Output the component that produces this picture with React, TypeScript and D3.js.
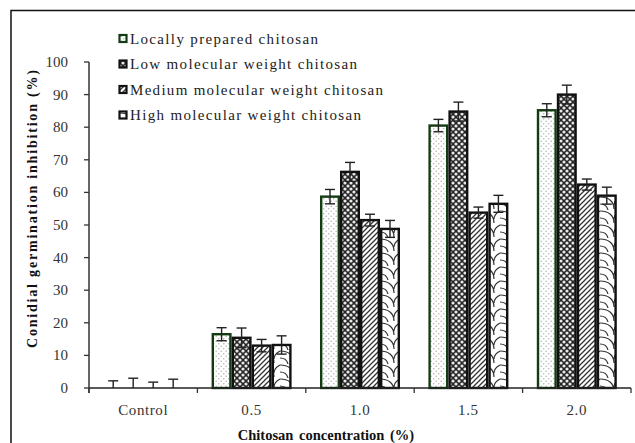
import React from "react";
import * as d3 from "d3";

const categories = ["Control", "0.5", "1.0", "1.5", "2.0"];
const seriesNames = [
  "Locally prepared chitosan",
  "Low molecular weight chitosan",
  "Medium molecular weight chitosan",
  "High molecular weight chitosan",
];
const locallyValues = [0, 16.5, 58.7, 80.5, 85.2];
const locallyErrors = [2.2, 2.0, 2.2, 1.9, 2.0];
const lowValues = [0, 15.4, 66.3, 84.8, 90.0];
const lowErrors = [3.0, 3.0, 2.9, 2.9, 2.9];
const mediumValues = [0, 13.0, 51.5, 53.8, 62.4];
const mediumErrors = [1.8, 1.9, 1.8, 1.7, 1.7];
const highValues = [0, 13.2, 48.8, 56.5, 59.0];
const highErrors = [2.7, 2.8, 2.6, 2.6, 2.6];
const yTicks = [0, 10, 20, 30, 40, 50, 60, 70, 80, 90, 100];

const values = [locallyValues, lowValues, mediumValues, highValues];
const errors = [locallyErrors, lowErrors, mediumErrors, highErrors];
const fills = ["url(#pLocal)", "url(#pLow)", "url(#pMed)", "url(#pHigh)"];
const strokes = ["#143c14", "#111", "#111", "#111"];
const legendWidths = [188, 227, 253, 231];

export default function App() {
  const W = 635, H = 443;
  const x0 = 89, x1 = 631, yBase = 388, yTop = 62;
  const x = d3.scaleBand<string>().domain(categories).range([x0, x1]).paddingInner(0).paddingOuter(0);
  const xs = d3
    .scaleBand<string>()
    .domain(seriesNames)
    .range([0, x.bandwidth()])
    .paddingInner(0)
    .paddingOuter((x.bandwidth() / 20 - 4) / 2);
  const y = d3.scaleLinear().domain([0, 100]).range([yBase, yTop]);
  const serif = "'Liberation Serif', 'Times New Roman', serif";
  const boundaries = [x0, ...categories.map((c) => (x(c) as number) + x.bandwidth())];

  return (
    <svg width={W} height={H} style={{ position: "absolute", left: 0, top: 0, background: "#fff" }}>
      <defs>
        <pattern id="pLocal" width="5" height="5" patternUnits="userSpaceOnUse">
          <rect width="5" height="5" fill="#fff" />
          <circle cx="1.2" cy="1.2" r="0.8" fill="#b5b5b5" />
          <circle cx="3.7" cy="3.7" r="0.8" fill="#b5b5b5" />
        </pattern>
        <pattern id="pLow" width="6" height="6" patternUnits="userSpaceOnUse">
          <rect width="6" height="6" fill="#262626" />
          <circle cx="0" cy="0" r="1.6" fill="#e8e8e8" />
          <circle cx="6" cy="0" r="1.6" fill="#e8e8e8" />
          <circle cx="0" cy="6" r="1.6" fill="#e8e8e8" />
          <circle cx="6" cy="6" r="1.6" fill="#e8e8e8" />
          <circle cx="3" cy="3" r="1.6" fill="#e8e8e8" />
        </pattern>
        <pattern id="pMed" width="5" height="5" patternUnits="userSpaceOnUse">
          <rect width="5" height="5" fill="#fff" />
          <path d="M-1,6 L6,-1 M-1,1 L1,-1 M4,6 L6,4" stroke="#333" strokeWidth="1.3" />
        </pattern>
        <pattern id="pHigh" width="20" height="14" patternUnits="userSpaceOnUse">
          <rect width="20" height="14" fill="#fff" />
          <path d="M0,1 C8,1 14,5 14,13 M20,1 C16,3 14,6 14,9 M0,8 C4,8 7,10 8,14" fill="none" stroke="#333" strokeWidth="1.2" />
        </pattern>
      </defs>

      {/* outer frame */}
      <path d={`M11,${H + 2} L11,10.5 L${W + 2},10.5`} fill="none" stroke="#111" strokeWidth={1.5} />

      {/* bars */}
      {values.map((vals, si) =>
        vals.map((v, ci) => {
          const bx = (x(categories[ci]) as number) + (xs(seriesNames[si]) as number);
          const bw = xs.bandwidth();
          if (v <= 0) return null;
          return (
            <rect
              key={`b${si}-${ci}`}
              x={bx + 1.2}
              y={y(v)}
              width={bw - 2.4}
              height={yBase - y(v)}
              fill={fills[si]}
              stroke={strokes[si]}
              strokeWidth={2.4}
            />
          );
        })
      )}

      {/* error bars */}
      {values.map((vals, si) =>
        vals.map((v, ci) => {
          const e = errors[si][ci];
          const cx = (x(categories[ci]) as number) + (xs(seriesNames[si]) as number) + xs.bandwidth() / 2;
          const lo = Math.max(0, v - e);
          const hi = v + e;
          return (
            <g key={`e${si}-${ci}`} stroke="#222" strokeWidth={1.4}>
              <line x1={cx} x2={cx} y1={y(lo)} y2={y(hi)} />
              <line x1={cx - 5} x2={cx + 5} y1={y(hi)} y2={y(hi)} />
              {v - e > 0 && <line x1={cx - 5} x2={cx + 5} y1={y(lo)} y2={y(lo)} />}
            </g>
          );
        })
      )}

      {/* y axis */}
      <line x1={x0} x2={x0} y1={y(100)} y2={yBase + 5} stroke="#333" strokeWidth={1.5} />
      {yTicks.map((t) => (
        <g key={`yt${t}`}>
          <line x1={x0 - 5} x2={x0} y1={y(t)} y2={y(t)} stroke="#333" strokeWidth={1.3} />
          <text x={68} y={y(t) + 5} textAnchor="end" fontFamily={serif} fontSize={15} fill="#333">
            {t}
          </text>
        </g>
      ))}

      {/* x axis */}
      <line x1={x0} x2={x1} y1={yBase} y2={yBase} stroke="#222" strokeWidth={1.5} />
      {boundaries.map((b, i) => (
        <line key={`xt${i}`} x1={b} x2={b} y1={yBase} y2={yBase + 5} stroke="#333" strokeWidth={1.3} />
      ))}
      {categories.map((c) => (
        <text
          key={`xl${c}`}
          x={(x(c) as number) + x.bandwidth() / 2}
          y={415}
          textAnchor="middle"
          fontFamily={serif}
          fontSize={15}
          letterSpacing={0.6}
          fill="#333"
        >
          {c}
        </text>
      ))}

      {/* axis titles */}
      <text x={326} y={440} textAnchor="middle" fontFamily={serif} fontSize={14.5} fontWeight="bold" wordSpacing={2} fill="#111">
        Chitosan concentration (%)
      </text>
      <text
        transform="translate(37,209) rotate(-90)"
        textAnchor="middle"
        fontFamily={serif}
        fontSize={14}
        fontWeight="bold"
        textLength={278}
        lengthAdjust="spacing"
        fill="#111"
      >
        Conidial germination inhibition (%)
      </text>

      {/* legend */}
      {seriesNames.map((s, i) => {
        const cy = 38.5 + i * 25.5;
        return (
          <g key={`lg${i}`}>
            <rect x={119.5} y={cy - 3.5} width={7} height={7} fill={fills[i]} stroke={strokes[i]} strokeWidth={2.2} />
            <text
              x={130}
              y={cy + 5}
              fontFamily={serif}
              fontSize={15}
              fill="#222"
              textLength={legendWidths[i]}
              lengthAdjust="spacing"
            >
              {s}
            </text>
          </g>
        );
      })}
    </svg>
  );
}
